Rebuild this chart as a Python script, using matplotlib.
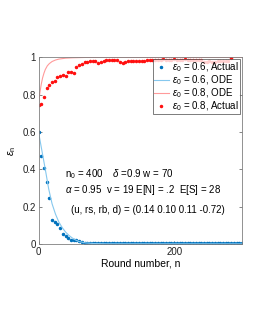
import numpy as np
import matplotlib
matplotlib.use("Agg")
import matplotlib.pyplot as plt

plt.rcParams['font.family'] = ['Liberation Sans', 'DejaVu Sans']
plt.rcParams['mathtext.fontset'] = 'custom'
plt.rcParams['mathtext.rm'] = 'Liberation Sans'
plt.rcParams['mathtext.it'] = 'Liberation Sans:italic'

# ----- data -----
n_blue = np.arange(0, 301, 4)
eps_blue = [0.600, 0.473, 0.406, 0.330, 0.245, 0.129, 0.118, 0.107, 0.084, 0.055,
            0.041, 0.030, 0.022, 0.022, 0.019, 0.015, 0.008, 0.005, 0.004, 0.004,
            0.004, 0.004, 0.004, 0.004, 0.004, 0.004, 0.004, 0.004, 0.004, 0.004,
            0.004, 0.004, 0.004, 0.004, 0.002, 0.002, 0.002, 0.002, 0.002, 0.002,
            0.002, 0.002, 0.002, 0.002, 0.002, 0.002, 0.002, 0.002, 0.002, 0.002,
            0.002, 0.002, 0.002, 0.002, 0.002, 0.002, 0.002, 0.002, 0.002, 0.002,
            0.002, 0.002, 0.002, 0.002, 0.002, 0.002, 0.002, 0.002, 0.002, 0.002,
            0.002, 0.002, 0.002, 0.002, 0.002, 0.002]

n_red = np.arange(0, 285, 4)
eps_red = [0.745, 0.749, 0.790, 0.835, 0.853, 0.870, 0.874, 0.895, 0.902, 0.906,
           0.899, 0.920, 0.924, 0.918, 0.951, 0.960, 0.965, 0.974, 0.976, 0.980,
           0.981, 0.980, 0.969, 0.978, 0.981, 0.985, 0.986, 0.985, 0.984, 0.986,
           0.978, 0.970, 0.975, 0.980, 0.982, 0.981, 0.979, 0.983, 0.982, 0.980,
           0.984, 0.985, 0.987, 0.988, 0.987, 0.988, 0.989, 0.988, 0.987, 0.988,
           0.989, 0.988, 0.987, 0.988, 0.989, 0.988, 0.987, 0.986, 0.988, 0.987,
           0.984, 0.978, 0.977, 0.979, 0.976, 0.978, 0.982, 0.980, 0.981, 0.979,
           0.982, 0.995]

n_ode_blue = [0, 5, 10, 15, 20, 25, 30, 35, 40, 45, 50, 55, 60, 70, 80, 100, 300]
ode_blue = [0.600, 0.500, 0.400, 0.295, 0.215, 0.160, 0.117, 0.087, 0.063, 0.045,
            0.031, 0.020, 0.012, 0.005, 0.002, 0.0005, 0.0]

n_ode_red = [0, 2, 4, 6, 8, 10, 13, 16, 20, 25, 30, 40, 50, 70, 300]
ode_red = [0.750, 0.810, 0.855, 0.890, 0.915, 0.935, 0.955, 0.967, 0.978, 0.986,
           0.991, 0.996, 0.998, 1.0, 1.0]

fig = plt.figure(figsize=(2.55, 3.3), dpi=100)
ax = fig.add_axes([0.151, 0.261, 0.798, 0.565])

ax.plot(n_blue, eps_blue, '.', color='#0072BD', ms=3.0, label=r'$\epsilon_0$ = 0.6, Actual')
ax.plot(n_ode_blue, ode_blue, '-', color='#86c8ee', lw=0.8, label=r'$\epsilon_0$ = 0.6, ODE')
ax.plot(n_ode_red, ode_red, '-', color='#ff9a9a', lw=0.8, label=r'$\epsilon_0$ = 0.8, ODE')
ax.plot(n_red, eps_red, '.', color='#ff1010', ms=3.0, label=r'$\epsilon_0$ = 0.8, Actual')

ax.set_xlim(0, 300)
ax.set_ylim(0, 1)
ax.set_xticks([0, 200])
ax.set_yticks([0, 0.2, 0.4, 0.6, 0.8, 1])
ax.set_yticklabels(['0', '0.2', '0.4', '0.6', '0.8', '1'])
ax.tick_params(direction='in', length=2, width=0.5, labelsize=7, pad=2,
               top=True, right=True, colors='#555555', labelcolor='#222222')
for s in ax.spines.values():
    s.set_color('#808080')
    s.set_linewidth(0.6)

ax.set_xlabel('Round number, n', fontsize=7.5, labelpad=1)
ax.set_ylabel(r'$\epsilon_\mathregular{n}$', fontsize=7.5, labelpad=3)

leg = ax.legend(loc='upper right', fontsize=7, frameon=True, fancybox=False,
                borderpad=0.1, labelspacing=-0.05, handlelength=1.6,
                handletextpad=0.3, borderaxespad=0.2, markerscale=1.0)
leg.get_frame().set_edgecolor('#404040')
leg.get_frame().set_linewidth(0.6)

ax.text(0.13, 0.375, r'$\mathregular{n_0}$ = 400    $\delta$ =0.9 w = 70',
        transform=ax.transAxes, fontsize=7, va='center')
ax.text(0.13, 0.29, r'$\alpha$ = 0.95  v = 19 E[N] = .2  E[S] = 28',
        transform=ax.transAxes, fontsize=7, va='center')
ax.text(0.158, 0.182, '(u, rs, rb, d) = (0.14 0.10 0.11 -0.72)',
        transform=ax.transAxes, fontsize=7, va='center')

fig.savefig('out.png', dpi=100)
